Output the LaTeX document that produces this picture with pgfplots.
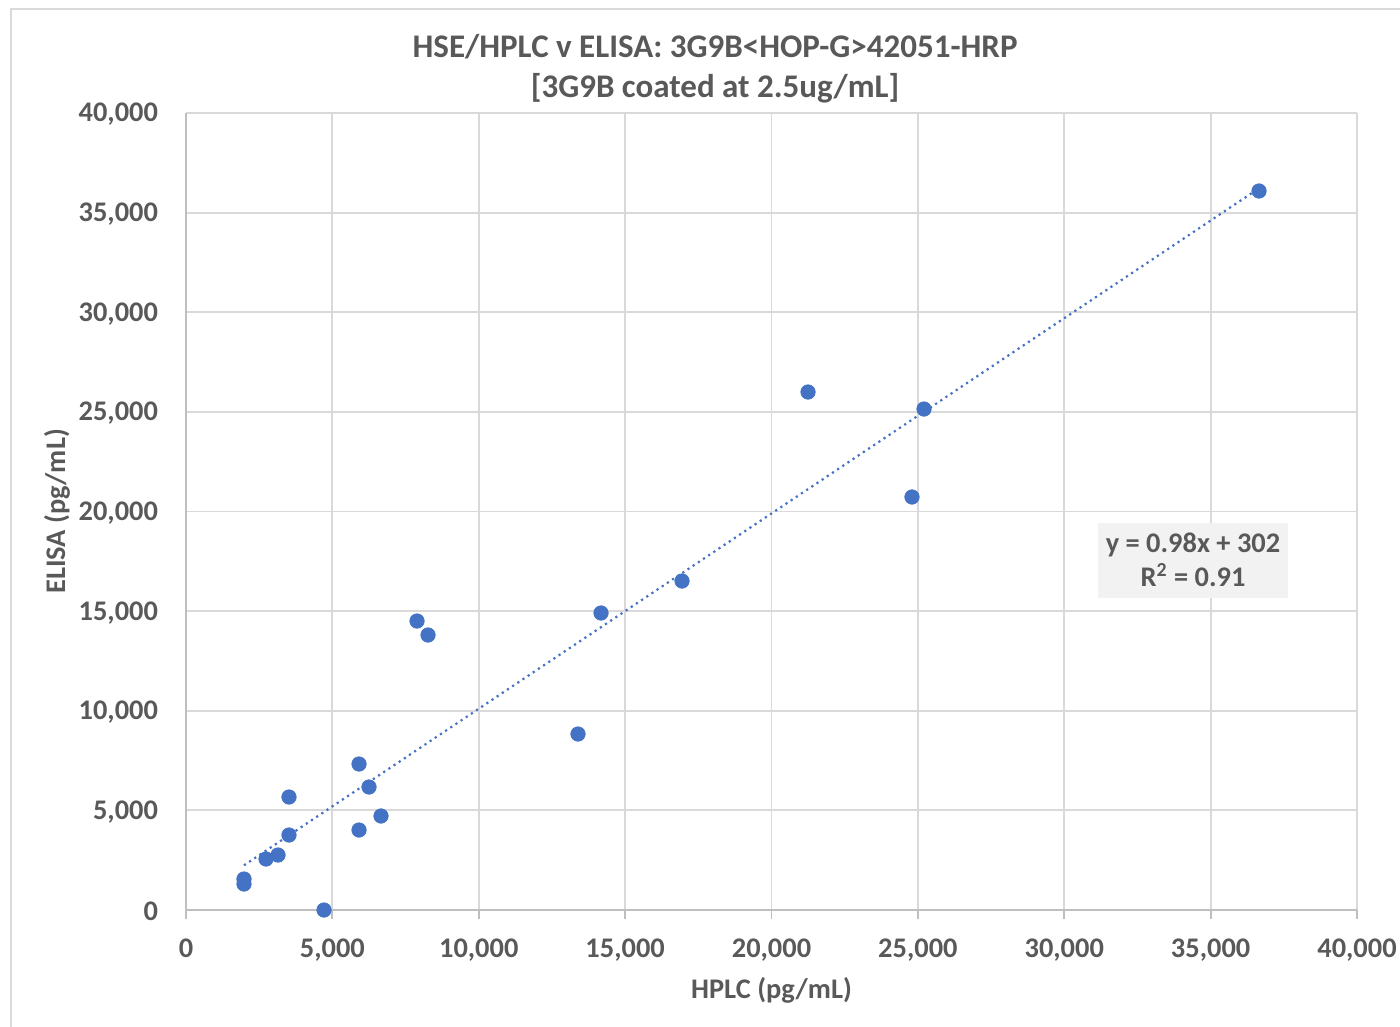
\documentclass[border=0pt]{standalone}
\usepackage{fontspec}
\setmainfont{Carlito}
\usepackage{pgfplots}
\pgfplotsset{compat=1.18}
\definecolor{ptblue}{HTML}{4472C4}
\definecolor{gridgray}{HTML}{D9D9D9}
\definecolor{axgray}{HTML}{BFBFBF}
\definecolor{txt}{HTML}{595959}
\definecolor{eqbg}{HTML}{F2F2F2}

\begin{document}
\begin{tikzpicture}
\useasboundingbox (0,0) rectangle (700pt,-513pt);
% chart area border (cut off at right and bottom in the reference)
\draw[gridgray, line width=1pt] (5.5pt,-4.5pt) rectangle (720pt,-530pt);
\begin{axis}[
    at={(93pt,-455pt)}, anchor=south west,
    scale only axis,
    width=585.5pt, height=398.5pt,
    xmin=0, xmax=40000, ymin=0, ymax=40000,
    xtick={0,5000,...,40000}, ytick={0,5000,...,40000},
    scaled ticks=false,
    /pgf/number format/fixed,
    /pgf/number format/1000 sep={,},
    /pgf/number format/assume math mode=true,
    font=\fontsize{14.2}{17}\selectfont\bfseries,
    every tick label/.append style={text=txt},
    grid=major,
    major grid style={gridgray, line width=0.9pt},
    axis line style={axgray, line width=0.9pt},
    axis x line*=bottom, axis y line*=left,
    x axis line style={-}, y axis line style={-},
    xtick style={axgray, line width=0.9pt},
    ytick style={draw=none},
    tick align=outside,
    major tick length=4.5pt,
    xticklabel style={anchor=north, yshift=-6.5pt},
    yticklabel style={anchor=east, xshift=-6pt, yshift=-0.8pt},
    title={HSE/HPLC v ELISA: 3G9B<HOP-G>42051-HRP\\{}[3G9B coated at 2.5ug/mL]},
    title style={at={(axis description cs:0.4518,1.041)}, anchor=center, align=center, text=txt,
      font=\fontsize{16.5}{20}\selectfont\bfseries},
    xlabel={HPLC (pg/mL)},
    xlabel style={at={(axis description cs:0.5,-0.1004)}, anchor=center, text=txt},
    ylabel={ELISA (pg/mL)},
    ylabel style={at={(axis description cs:-0.1102,0.5)}, anchor=center, text=txt},
    clip=false,
]
\addplot[ptblue, dotted, line width=1.1pt] coordinates {(1981,2243) (36653,36222)};
\addplot[only marks, mark=*, mark size=3.6pt, mark options={fill=ptblue, draw=ptblue}] table {
x y
1981 1556
1981 1305
2733 2560
3143 2760
3518 5671
3518 3764
4714 0
5910 7327
5910 4015
6251 6173
6661 4718
7891 14504
8267 13802
13390 8833
14176 14906
16943 16512
21247 25997
24799 20728
25209 25144
36653 36085
};
\node[fill=eqbg, text=txt, align=center, inner xsep=4pt, inner ysep=4pt, minimum width=94.5pt, minimum height=37.5pt]
  at (axis cs:34398,17566) {y = 0.98x + 302\\R\textsuperscript{2} = 0.91};
\end{axis}
\end{tikzpicture}
\end{document}
